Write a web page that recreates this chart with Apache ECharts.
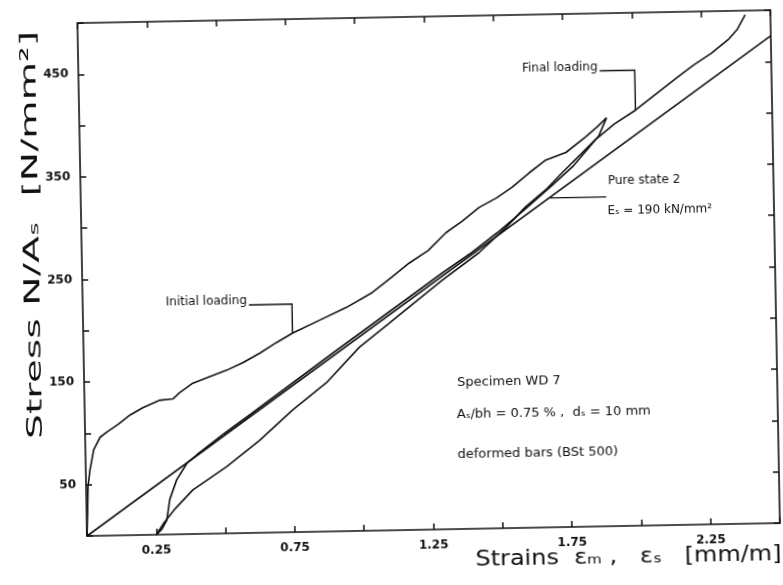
<!DOCTYPE html>
<html><head><meta charset="utf-8">
<script src="https://cdn.jsdelivr.net/npm/echarts@6/dist/echarts.min.js"></script>
<style>
html,body{margin:0;padding:0;background:#fff;overflow:hidden;width:783px;height:585px}
#c{width:783px;height:585px;transform:rotate(-1.07deg);transform-origin:87px 536px;}
</style></head><body><div id="c"></div>
<script>
// ---- data (strain mm/m, stress N/mm2) ----
const initialLoading = [[0,0],[0.004,25],[0.007,48],[0.015,64],[0.03,84],[0.054,96],[0.079,101],[0.119,108],[0.163,117],[0.21,124],[0.272,131],[0.319,132],[0.344,138],[0.392,147],[0.453,153],[0.515,159],[0.573,166],[0.635,175],[0.696,185],[0.755,194],[0.853,206],[0.951,218],[1.045,232],[1.118,247],[1.18,260],[1.25,272],[1.315,289],[1.375,300],[1.436,313],[1.5,322],[1.556,332],[1.62,346],[1.68,358],[1.753,365],[1.826,380],[1.87,390],[1.902,398]];
const unloading = [[1.902,398],[1.872,380],[1.737,345],[1.678,329],[1.605,313],[1.532,293],[1.433,269],[1.3,243],[1.2,222],[1.1,201],[0.995,179],[0.874,145],[0.75,119],[0.629,90],[0.508,65],[0.385,43],[0.32,25],[0.28,12],[0.25,0]];
const reloading = [[0.25,0],[0.27,5],[0.289,14],[0.301,34],[0.327,53],[0.365,69],[0.401,77],[0.5,97],[0.6,116],[0.75,145],[0.9,174],[1.0,193],[1.1,212],[1.2,231],[1.3,250],[1.4,268],[1.5,288],[1.6,310],[1.7,333],[1.78,352],[1.861,377]];
const finalLoading = [[1.861,377],[1.93,392],[2.007,405],[2.08,420],[2.164,437],[2.22,448],[2.284,459],[2.346,472],[2.38,482],[2.409,496]];
const pureState2 = [[0,0],[2.5,475]];
const xTickLabels = ['0.25','0.75','1.25','1.75','2.25'];
const yTickLabels = ['50','150','250','350','450'];
// annotation anchor points on curves (data coords)
const initialAnchor = [0.755,194];
const finalAnchor = [2.007,405];
const pureAnchor = [1.69,321];

const chart = echarts.init(document.getElementById('c'), null, {renderer:'canvas'});
const ink = '#111';
const lineSty = {color:ink,width:1.6};
const tickFont = {color:ink,fontSize:12,fontWeight:'bold',fontFamily:"'Liberation Sans Narrow','DejaVu Sans',sans-serif"};
function mkSeries(name,data){return {name,type:'line',data,showSymbol:false,symbol:'none',lineStyle:lineSty,animation:false,silent:true};}
const axisLine = {show:true,onZero:false,lineStyle:{color:ink,width:1.6}};
const tick = {inside:true,length:6,lineStyle:{color:ink,width:1.5}};
chart.setOption({
  backgroundColor:'#fff',
  animation:false,
  grid:{left:87,right:1,top:23,bottom:49},
  xAxis:[
    {type:'value',min:0,max:2.5,interval:0.25,axisLine,axisTick:tick,splitLine:{show:false},
     axisLabel:{...tickFont,margin:10,formatter:v=>{const s=v.toFixed(2);return xTickLabels.includes(s)?s:'';}}},
    {type:'value',position:'top',min:0,max:2.5,interval:0.25,axisLine,axisTick:tick,
     splitLine:{show:false},axisLabel:{show:false}}
  ],
  yAxis:[
    {type:'value',min:0,max:500,interval:50,axisLine,axisTick:tick,splitLine:{show:false},
     axisLabel:{...tickFont,margin:10,formatter:v=>yTickLabels.includes(String(v))?String(v):''}},
    {type:'value',position:'right',min:0,max:500,interval:50,axisLine,axisTick:tick,
     splitLine:{show:false},axisLabel:{show:false}}
  ],
  series:[
    mkSeries('Initial loading',initialLoading),
    mkSeries('Unloading',unloading),
    mkSeries('Reloading',reloading),
    mkSeries('Final loading',finalLoading),
    mkSeries('Pure state 2',pureState2)
  ]
});

// ---- annotations ----
const mctx = document.createElement('canvas').getContext('2d');
function fitScale(text,font,target){mctx.font=font;return target/mctx.measureText(text).width;}
const P = p=>chart.convertToPixel({gridIndex:0},p);
const ia = P(initialAnchor), fa = P(finalAnchor), pa = P(pureAnchor);
const annFont = "'DejaVu Sans',sans-serif";
const lineS = {stroke:ink,lineWidth:1.4,fill:null};
const yTitle = 'Stress N/Aₛ  [N/mm²]';
const xTitle = 'Strains  εₘ ,   εₛ   [mm/m]';
const ySx = fitScale(yTitle,'22px DejaVu Sans',408);
const xSx = fitScale(xTitle,'21px DejaVu Sans',306);
const g = [
  {type:'polyline',shape:{points:[[ia[0]-43,ia[1]-29],[ia[0],ia[1]-29],[ia[0],ia[1]]]},style:lineS,z:10},
  {type:'text',x:ia[0]-45,y:ia[1]-27,style:{text:'Initial loading',fill:ink,font:'12px '+annFont,align:'right',verticalAlign:'bottom'},z:10},
  {type:'polyline',shape:{points:[[fa[0]-35,fa[1]-40],[fa[0],fa[1]-40],[fa[0],fa[1]]]},style:lineS,z:10},
  {type:'text',x:fa[0]-37,y:fa[1]-38,style:{text:'Final loading',fill:ink,font:'12px '+annFont,align:'right',verticalAlign:'bottom'},z:10},
  {type:'polyline',shape:{points:[[pa[0],pa[1]],[pa[0]+57,pa[1]]]},style:lineS,z:10},
  {type:'text',x:pa[0]+59,y:pa[1]-16,style:{text:'Pure state 2',fill:ink,font:'12px '+annFont,align:'left',verticalAlign:'middle'},z:10},
  {type:'text',x:pa[0]+58,y:pa[1]+14,style:{text:'Eₛ = 190 kN/mm²',fill:ink,font:'12px '+annFont,align:'left',verticalAlign:'middle'},z:10},
  {type:'text',x:460,y:390,style:{text:'Specimen WD 7',fill:ink,font:'13px '+annFont,align:'left',verticalAlign:'middle'},z:10},
  {type:'text',x:459,y:422,style:{text:'Aₛ/bh = 0.75 % ,  dₛ = 10 mm',fill:ink,font:'13px '+annFont,align:'left',verticalAlign:'middle'},z:10},
  {type:'text',x:459,y:462,style:{text:'deformed bars (BSt 500)',fill:ink,font:'13px '+annFont,align:'left',verticalAlign:'middle'},z:10},
  {type:'text',x:38,y:234,rotation:Math.PI/2,scaleX:ySx,style:{text:yTitle,fill:ink,font:'22px DejaVu Sans',align:'center',verticalAlign:'middle'},z:10},
  {type:'text',x:628,y:568,scaleX:xSx,style:{text:xTitle,fill:ink,font:'21px DejaVu Sans',align:'center',verticalAlign:'middle'},z:10}
];
chart.setOption({graphic:g});
</script></body></html>
